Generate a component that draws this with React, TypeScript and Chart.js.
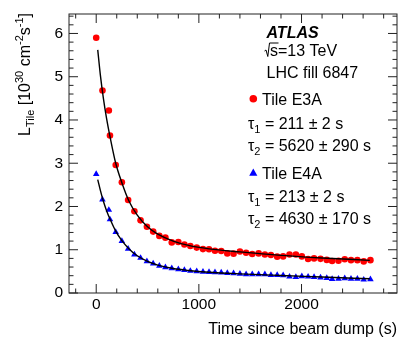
import React, { useEffect, useRef } from "react";
import { Chart, registerables } from "chart.js";

Chart.register(...registerables);

// ---- data ----
const times = [
  0, 61, 123, 134, 190, 250, 311, 372, 432, 494, 555, 615, 674, 736, 800, 859,
  917, 979, 1040, 1099, 1157, 1218, 1277, 1338, 1400, 1460, 1520, 1582, 1643,
  1702, 1763, 1821, 1883, 1945, 2003, 2064, 2122, 2185, 2246, 2298, 2360, 2421,
  2482, 2544, 2606, 2671,
];
const e3aValues = [
  5.9, 4.68, 4.22, 3.64, 2.96, 2.56, 2.15, 1.89, 1.68, 1.53, 1.42, 1.32, 1.28,
  1.17, 1.18, 1.12, 1.085, 1.05, 1.015, 1.01, 0.976, 0.97, 0.915, 0.91, 0.96,
  0.93, 0.9, 0.915, 0.89, 0.877, 0.84, 0.846, 0.89, 0.89, 0.846, 0.785, 0.8,
  0.79, 0.765, 0.74, 0.745, 0.78, 0.76, 0.76, 0.73, 0.76,
];
const e4aValues = [
  2.75, 2.16, 1.92, 1.7, 1.41, 1.2, 1.02, 0.89, 0.81, 0.73, 0.68, 0.63, 0.595,
  0.57, 0.547, 0.53, 0.51, 0.5, 0.49, 0.485, 0.478, 0.47, 0.46, 0.455, 0.445,
  0.43, 0.43, 0.43, 0.43, 0.415, 0.415, 0.41, 0.377, 0.37, 0.385, 0.377, 0.37,
  0.357, 0.346, 0.323, 0.33, 0.34, 0.33, 0.33, 0.307, 0.316,
];
// fitted curves
const fitTimes = [15, 40, 70, 100, 140, 190, 250, 320, 400, 500, 600, 750, 900, 1100, 1400, 1800, 2200, 2665];
const fitE3A = [5.62, 5.05, 4.5, 4.05, 3.55, 3.0, 2.55, 2.12, 1.8, 1.53, 1.36, 1.2, 1.1, 1.02, 0.95, 0.87, 0.81, 0.755];
const fitE4A = [2.62, 2.38, 2.12, 1.91, 1.68, 1.43, 1.21, 1.02, 0.86, 0.73, 0.645, 0.565, 0.52, 0.48, 0.443, 0.405, 0.37, 0.328];

// ---- axes ----
const xMajorTicks = [0, 1000, 2000];
const xMinorTicks = [-200, 200, 400, 600, 800, 1200, 1400, 1600, 1800, 2200, 2400, 2600, 2800];
const yMajorTicks = [0, 1, 2, 3, 4, 5, 6];
const yMinorTicks = [
  0.2, 0.4, 0.6, 0.8, 1.2, 1.4, 1.6, 1.8, 2.2, 2.4, 2.6, 2.8, 3.2, 3.4, 3.6, 3.8,
  4.2, 4.4, 4.6, 4.8, 5.2, 5.4, 5.6, 5.8, 6.2, 6.4,
];
const xTitle = "Time since beam dump (s)";

// ---- legend texts ----
const atlasLabel = "ATLAS";
const energyLabel = "s=13 TeV";
const fillLabel = "LHC fill 6847";
const seriesNames = ["Tile E3A", "Tile E4A"];
const tau1Labels = ["211 \u00b1 2 s", "213 \u00b1 2 s"];
const tau2Labels = ["5620 \u00b1 290 s", "4630 \u00b1 170 s"];

const FONT = '"Liberation Sans", Arial, Helvetica, sans-serif';
const RED = "#ff0000";
const BLUE = "#0000ff";

type Part = { t: string; size: number; dy: number };

function drawParts(ctx: CanvasRenderingContext2D, parts: Part[], x: number, y: number) {
  let cx = x;
  for (const p of parts) {
    ctx.font = `${p.size}px ${FONT}`;
    ctx.fillText(p.t, cx, y + p.dy);
    cx += ctx.measureText(p.t).width;
  }
  return cx;
}
function measureParts(ctx: CanvasRenderingContext2D, parts: Part[]) {
  let w = 0;
  for (const p of parts) {
    ctx.font = `${p.size}px ${FONT}`;
    w += ctx.measureText(p.t).width;
  }
  return w;
}

const decorPlugin = {
  id: "decor",
  afterDraw(chart: any) {
    const ctx: CanvasRenderingContext2D = chart.ctx;
    const { left, right, top, bottom } = chart.chartArea;
    const xs = chart.scales.x;
    const ys = chart.scales.y;
    ctx.save();
    // frame
    ctx.strokeStyle = "#222";
    ctx.lineWidth = 1;
    ctx.strokeRect(left, top, right - left, bottom - top);
    // ticks
    ctx.beginPath();
    const xt = (v: number, len: number) => {
      const px = xs.getPixelForValue(v);
      ctx.moveTo(px, bottom);
      ctx.lineTo(px, bottom - len);
      ctx.moveTo(px, top);
      ctx.lineTo(px, top + len);
    };
    const yt = (v: number, len: number) => {
      const py = ys.getPixelForValue(v);
      ctx.moveTo(left, py);
      ctx.lineTo(left + len, py);
      ctx.moveTo(right, py);
      ctx.lineTo(right - len, py);
    };
    xMajorTicks.forEach((v) => xt(v, 9));
    xMinorTicks.forEach((v) => xt(v, 4.5));
    yMajorTicks.forEach((v) => yt(v, 9));
    yMinorTicks.forEach((v) => yt(v, 4.5));
    ctx.stroke();

    ctx.fillStyle = "#000";
    ctx.strokeStyle = "#000";
    ctx.textBaseline = "alphabetic";
    ctx.textAlign = "left";

    // y title (rotated, aligned to top of axis)
    const yParts: Part[] = [
      { t: "L", size: 16, dy: 0 },
      { t: "Tile", size: 11, dy: 4 },
      { t: " [10", size: 16, dy: 0 },
      { t: "30", size: 11, dy: -7 },
      { t: " cm", size: 16, dy: 0 },
      { t: "-2", size: 11, dy: -7 },
      { t: "s", size: 16, dy: 0 },
      { t: "-1", size: 11, dy: -7 },
      { t: "]", size: 16, dy: 0 },
    ];
    const tw = measureParts(ctx, yParts);
    ctx.save();
    ctx.translate(30, top - 1 + tw);
    ctx.rotate(-Math.PI / 2);
    drawParts(ctx, yParts, 0, 0);
    ctx.restore();

    // ATLAS label
    ctx.font = `italic bold 16px ${FONT}`;
    ctx.fillText(atlasLabel, 266.5, 37.5);
    // sqrt(s)
    ctx.font = `16px ${FONT}`;
    const bx = 264.5;
    const by = 56;
    const sW = ctx.measureText("s").width;
    ctx.beginPath();
    ctx.lineWidth = 1;
    ctx.moveTo(bx, by - 5);
    ctx.lineTo(bx + 1.5, by - 6);
    ctx.lineTo(bx + 3.3, by + 0.5);
    ctx.lineTo(bx + 5, by - 13);
    ctx.lineTo(bx + 6 + sW, by - 13);
    ctx.stroke();
    ctx.fillText(energyLabel, bx + 5.5, by);
    ctx.fillText(fillLabel, 266.5, 78);

    // series legend entries
    const entryY = [104.5, 178.5];
    const tau1Y = [128.5, 201.5];
    const tau2Y = [150.5, 223.5];
    for (let i = 0; i < 2; i++) {
      const my = entryY[i] - 5.7;
      ctx.fillStyle = i === 0 ? RED : BLUE;
      ctx.beginPath();
      if (i === 0) {
        ctx.arc(253.3, my, 3.8, 0, Math.PI * 2);
      } else {
        ctx.moveTo(253.3, my - 4.2);
        ctx.lineTo(257.4, my + 2.9);
        ctx.lineTo(249.2, my + 2.9);
        ctx.closePath();
      }
      ctx.fill();
      ctx.fillStyle = "#000";
      ctx.font = `16px ${FONT}`;
      ctx.fillText(seriesNames[i], 262, entryY[i]);
      drawParts(
        ctx,
        [
          { t: "\u03c4", size: 16, dy: 0 },
          { t: "1", size: 11, dy: 4 },
          { t: " = " + tau1Labels[i], size: 16, dy: 0 },
        ],
        248,
        tau1Y[i]
      );
      drawParts(
        ctx,
        [
          { t: "\u03c4", size: 16, dy: 0 },
          { t: "2", size: 11, dy: 4 },
          { t: " = " + tau2Labels[i], size: 16, dy: 0 },
        ],
        248,
        tau2Y[i]
      );
    }
    ctx.restore();
  },
};

export default function App() {
  const ref = useRef<HTMLCanvasElement>(null);
  useEffect(() => {
    const canvas = ref.current;
    if (!canvas) return;
    Chart.defaults.font.family = FONT;
    const chart = new Chart(canvas, {
      type: "scatter",
      data: {
        datasets: [
          {
            label: "fit E3A",
            data: fitTimes.map((t, i) => ({ x: t, y: fitE3A[i] })),
            showLine: true,
            borderColor: "#000",
            borderWidth: 1.4,
            pointRadius: 0,
            cubicInterpolationMode: "monotone",
            order: 0,
          },
          {
            label: "fit E4A",
            data: fitTimes.map((t, i) => ({ x: t, y: fitE4A[i] })),
            showLine: true,
            borderColor: "#000",
            borderWidth: 1.4,
            pointRadius: 0,
            cubicInterpolationMode: "monotone",
            order: 0,
          },
          {
            label: seriesNames[0],
            data: times.map((t, i) => ({ x: t, y: e3aValues[i] })),
            backgroundColor: RED,
            borderColor: RED,
            borderWidth: 0,
            pointRadius: 3.3,
            pointStyle: "circle",
            order: 1,
          },
          {
            label: seriesNames[1],
            data: times.map((t, i) => ({ x: t, y: e4aValues[i] })),
            backgroundColor: BLUE,
            borderColor: BLUE,
            borderWidth: 0,
            pointRadius: 3.8,
            pointStyle: "triangle",
            order: 1,
          },
        ],
      } as any,
      options: {
        responsive: false,
        animation: false,
        events: [],
        layout: { padding: { left: 0, top: 14, right: 17, bottom: 0 } },
        plugins: { legend: { display: false }, tooltip: { enabled: false } },
        scales: {
          x: {
            type: "linear",
            min: -265,
            max: 2930,
            afterBuildTicks: (s: any) => {
              s.ticks = xMajorTicks.map((v) => ({ value: v }));
            },
            afterFit: (s: any) => {
              s.height = 60;
              s.paddingLeft = 0;
              s.paddingRight = 0;
            },
            grid: { display: false, drawTicks: false },
            border: { display: false },
            ticks: {
              color: "#000",
              font: { size: 15.5 },
              padding: 2,
              maxRotation: 0,
              autoSkip: false,
              callback: (v: any) => String(v),
            },
            title: {
              display: true,
              text: xTitle,
              align: "end",
              color: "#000",
              font: { size: 16 },
              padding: { top: 0, bottom: 14 },
            },
          },
          y: {
            type: "linear",
            min: 0,
            max: 6.45,
            afterBuildTicks: (s: any) => {
              s.ticks = yMajorTicks.map((v) => ({ value: v }));
            },
            afterFit: (s: any) => {
              s.width = 69;
              s.paddingTop = 0;
              s.paddingBottom = 0;
            },
            grid: { display: false, drawTicks: false },
            border: { display: false },
            ticks: {
              color: "#000",
              font: { size: 15.5 },
              padding: 6,
              autoSkip: false,
              callback: (v: any) => String(v),
            },
          },
        },
      } as any,
      plugins: [decorPlugin],
    });
    return () => chart.destroy();
  }, []);
  return (
    <div style={{ position: "fixed", left: 0, top: 0, width: 414, height: 353, background: "#fff" }}>
      <canvas ref={ref} width={414} height={353} style={{ display: "block", width: 414, height: 353 }} />
    </div>
  );
}
